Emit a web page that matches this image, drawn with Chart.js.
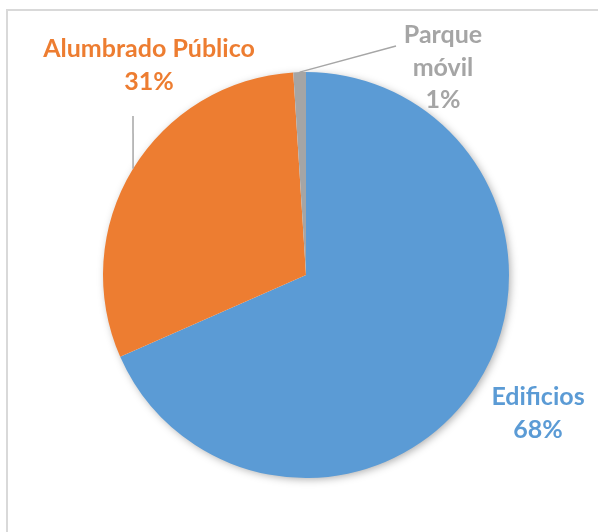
<!DOCTYPE html>
<html>
<head>
<meta charset="utf-8">
<script src="https://cdn.jsdelivr.net/npm/chart.js@4"></script>
<style>
  html, body { margin: 0; padding: 0; background: #fff; }
  #wrap { position: relative; width: 598px; height: 532px; overflow: hidden; }
  #frame {
    position: absolute; left: 6px; top: 9px; width: 700px; height: 700px;
    border-top: 2px solid #d9d9d9; border-left: 2px solid #d9d9d9;
  }
  canvas { position: absolute; left: 0; top: 0; }
</style>
</head>
<body>
<div id="wrap">
  <div id="frame"></div>
  <canvas id="pie" width="598" height="532"></canvas>
</div>
<script>
// datos del gráfico
const categories = ["Edificios", "Alumbrado Público", "Parque móvil"];
const values = [68.4, 30.6, 1.0];
const colors = ["#5B9BD5", "#ED7D31", "#A5A5A5"];

const total = values.reduce((a, b) => a + b, 0);
const percentLabels = values.map((v) => Math.round((v / total) * 100) + "%");

// posiciones de etiquetas (estilo, no datos)
const labelLayout = [
  { lines: ["Edificios", percentLabels[0]], x: 538, y: 397 },
  { lines: ["Alumbrado Público", percentLabels[1]], x: 149, y: 49 },
  { lines: ["Parque", "móvil", percentLabels[2]], x: 443, y: 35 },
];

// líneas guía: punto inicial y ángulo (grados desde arriba, sentido horario) en el borde
const leaders = [
  { index: 1, from: [133, 116], angle: 301.6 },
  { index: 2, from: [396, 46], angle: 358.2 },
];

const shadowPlugin = {
  id: "pieShadow",
  beforeDatasetsDraw(chart) {
    const arc = chart.getDatasetMeta(0).data[0];
    const ctx = chart.ctx;
    ctx.save();
    ctx.shadowColor = "rgba(0,0,0,0.35)";
    ctx.shadowBlur = 9;
    ctx.shadowOffsetX = 2;
    ctx.shadowOffsetY = 2;
    ctx.fillStyle = "#ffffff";
    ctx.beginPath();
    ctx.arc(arc.x, arc.y, arc.outerRadius - 1, 0, Math.PI * 2);
    ctx.fill();
    ctx.restore();
  },
};

const labelPlugin = {
  id: "pieLabels",
  afterDatasetsDraw(chart) {
    const ctx = chart.ctx;
    const arc0 = chart.getDatasetMeta(0).data[0];
    const cx = arc0.x;
    const cy = arc0.y;
    const r = arc0.outerRadius;

    ctx.save();
    ctx.strokeStyle = "#a6a6a6";
    ctx.lineWidth = 1.5;
    leaders.forEach((l) => {
      const a = (l.angle * Math.PI) / 180;
      ctx.beginPath();
      ctx.moveTo(l.from[0], l.from[1]);
      ctx.lineTo(cx + r * Math.sin(a), cy - r * Math.cos(a));
      ctx.stroke();
    });

    ctx.font = "bold 25px Lato";
    ctx.textAlign = "center";
    ctx.textBaseline = "middle";
    labelLayout.forEach((lab, i) => {
      ctx.fillStyle = colors[i];
      lab.lines.forEach((t, j) => {
        ctx.fillText(t, lab.x, lab.y + j * 32.5);
      });
    });
    ctx.restore();
  },
};

new Chart(document.getElementById("pie"), {
  type: "pie",
  data: {
    labels: categories,
    datasets: [
      {
        data: values,
        backgroundColor: colors,
        borderWidth: 0,
      },
    ],
  },
  options: {
    responsive: false,
    animation: false,
    layout: { padding: { left: 103, right: 89, top: 72, bottom: 54 } },
    plugins: {
      legend: { display: false },
      tooltip: { enabled: false },
    },
  },
  plugins: [shadowPlugin, labelPlugin],
});
</script>
</body>
</html>
